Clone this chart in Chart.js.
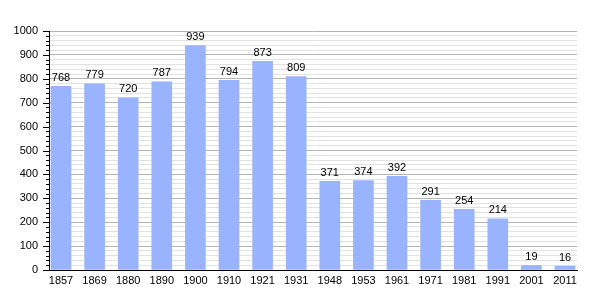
<!DOCTYPE html>
<html>
<head>
<meta charset="utf-8">
<script src="https://cdn.jsdelivr.net/npm/chart.js@4/dist/chart.umd.min.js"></script>
<style>
  html, body { margin: 0; padding: 0; background: #fff; }
  #wrap { width: 605px; height: 300px; }
</style>
</head>
<body>
<div id="wrap"><canvas id="chart" width="605" height="300"></canvas></div>
<script>
const years = ['1857', '1869', '1880', '1890', '1900', '1910', '1921', '1931', '1948', '1953', '1961', '1971', '1981', '1991', '2001', '2011'];
const population = [768, 779, 720, 787, 939, 794, 873, 809, 371, 374, 392, 291, 254, 214, 19, 16];
const yMin = 0;
const yMax = 1000;
const minorStep = 20;
const majorStep = 100;

const FONT = '"Liberation Sans", Arial, sans-serif';

// value labels above bars + tick marks on left axis
const extras = {
  id: 'extras',
  afterDatasetsDraw(chart) {
    const ctx = chart.ctx;
    const meta = chart.getDatasetMeta(0);
    ctx.save();
    ctx.fillStyle = '#000';
    ctx.font = '11px ' + FONT;
    ctx.textAlign = 'center';
    ctx.textBaseline = 'bottom';
    meta.data.forEach((bar, i) => {
      ctx.fillText(String(population[i]), bar.x, bar.y - 3);
    });

    const y = chart.scales.y;
    ctx.strokeStyle = '#000';
    ctx.lineWidth = 1;
    for (let v = yMin; v <= yMax; v += minorStep) {
      const py = Math.round(y.getPixelForValue(v)) + 0.5;
      const len = v % majorStep === 0 ? 6 : 3;
      ctx.beginPath();
      ctx.moveTo(y.right - len, py);
      ctx.lineTo(y.right, py);
      ctx.stroke();
    }
    ctx.restore();
  }
};

new Chart(document.getElementById('chart'), {
  type: 'bar',
  data: {
    datasets: [{
      data: population.map((v, i) => ({ x: i, y: v })),
      backgroundColor: '#99b3ff',
      borderWidth: 0,
      barThickness: 20
    }]
  },
  options: {
    responsive: false,
    animation: false,
    layout: { padding: { top: 31, right: 28, left: 0, bottom: 0 } },
    plugins: { legend: { display: false }, tooltip: { enabled: false } },
    scales: {
      x: {
        type: 'linear',
        min: -0.357,
        max: years.length - 1 + 0.357,
        offset: false,
        grid: { display: false, drawTicks: false, offset: false },
        border: { color: '#000', width: 1 },
        ticks: {
          stepSize: 1,
          includeBounds: false,
          autoSkip: false,
          maxRotation: 0,
          color: '#000',
          padding: 4,
          font: { size: 11, family: FONT },
          callback: v => (Number.isInteger(v) && years[v] ? years[v] : '')
        },
        afterFit(scale) { scale.height = 30; }
      },
      y: {
        min: yMin,
        max: yMax,
        ticks: {
          stepSize: minorStep,
          autoSkip: false,
          color: '#000',
          padding: 11,
          font: { size: 11, family: FONT },
          callback: v => (v % majorStep === 0 ? v : '')
        },
        grid: {
          drawTicks: false,
          color: ctx => (ctx.tick && ctx.tick.value % majorStep === 0 ? '#b4b4b4' : '#e2e2e2'),
          lineWidth: 1
        },
        border: { color: '#000', width: 1 },
        afterFit(scale) { scale.width = 49; }
      }
    }
  },
  plugins: [extras]
});
</script>
</body>
</html>
